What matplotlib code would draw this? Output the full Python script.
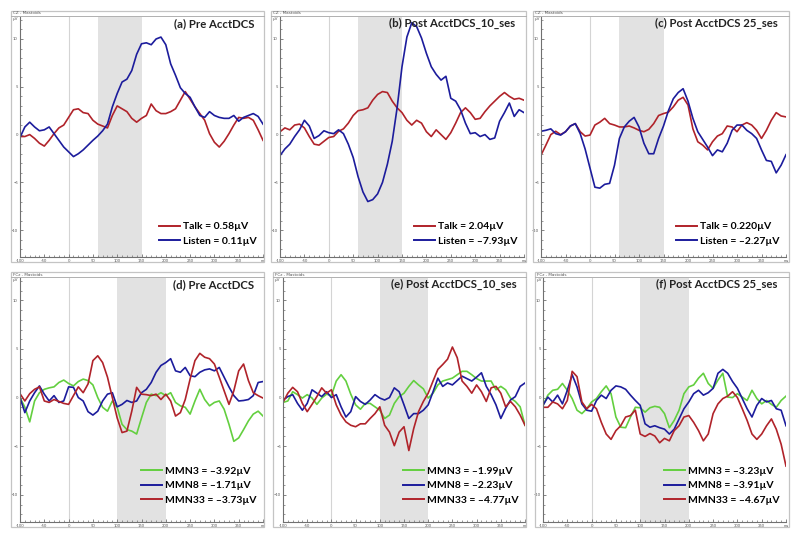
import numpy as np
import matplotlib
matplotlib.use("Agg")
import matplotlib.pyplot as plt
from matplotlib.lines import Line2D
from matplotlib.patches import Rectangle
from matplotlib.ticker import MultipleLocator

plt.rcParams['font.family'] = ['Lato', 'DejaVu Sans']

# time axis (ms), one sample every 10 ms
t = np.arange(-100, 401, 10)

# ---- top row: Talk / Listen (CZ) ----
a_talk = [-0.2, -0.2, 0.0, -0.4, -0.9, -1.2, -0.6, 0.1, 0.7, 1.0,
          1.8, 2.6, 2.7, 2.3, 2.2, 1.5, 1.1, 0.9, 0.7, 2.0,
          3.0, 2.7, 2.4, 1.7, 1.3, 1.7, 2.0, 3.2, 2.5, 2.2,
          2.2, 2.4, 2.7, 3.6, 4.5, 3.7, 2.9, 2.2, 1.5, 0.1,
          -0.8, -1.3, -0.7, 0.1, 1.0, 1.8, 1.7, 1.8, 1.5, 0.5,
          -0.6]
a_listen = [-0.3, 0.8, 1.3, 0.8, 0.4, 0.5, 0.8, 0.1, -0.6, -1.3,
            -1.8, -2.3, -2.0, -1.6, -1.1, -0.6, -0.15, 0.4, 1.1, 2.9,
            4.3, 5.5, 5.8, 6.7, 8.4, 9.5, 9.6, 9.4, 10.0, 10.2,
            9.4, 7.4, 6.2, 4.9, 4.3, 3.9, 2.9, 2.0, 1.8, 2.4,
            2.0, 1.8, 1.7, 1.7, 2.0, 1.4, 1.8, 2.0, 2.2, 1.9,
            1.1]
b_talk = [0.3, 0.7, 0.5, 1.0, 1.1, 0.7, -0.2, -1.0, -1.1, -0.7,
          -0.3, -0.2, 0.35, 0.6, 1.2, 2.0, 2.5, 2.6, 2.8, 3.6,
          4.2, 4.5, 4.4, 3.5, 2.8, 2.3, 1.5, 1.0, 1.5, 1.2,
          0.3, -0.2, 0.5, 0.0, -0.5, 0.2, 1.2, 2.3, 2.8, 2.3,
          1.6, 1.7, 2.4, 3.0, 3.5, 4.0, 4.4, 4.0, 3.7, 3.8,
          3.6]
b_listen = [-2.2, -1.5, -1.0, -0.2, 0.5, 1.5, 0.9, -0.4, -0.1, 0.4,
            0.2, 0.1, 0.5, 0.1, -1.0, -2.4, -4.4, -6.0, -7.0, -6.8,
            -6.2, -5.0, -3.1, -0.7, 2.8, 7.1, 10.2, 11.7, 11.3, 10.1,
            8.5, 7.1, 6.3, 5.7, 6.1, 3.8, 3.5, 2.6, 1.2, 0.1,
            0.2, -0.2, 0.0, -0.5, -0.35, 1.4, 2.3, 3.3, 1.9, 2.6,
            2.3]
c_talk = [-2.15, -1.1, 0.0, 0.35, 0.0, 0.3, 0.9, 1.15, 0.3, -0.15,
          -0.05, 1.0, 1.3, 1.7, 1.15, 1.0, 0.8, 0.8, 0.9, 0.7,
          0.45, 0.3, 0.55, 1.15, 2.0, 2.2, 2.35, 2.9, 3.6, 3.9,
          3.1, 0.6, -0.75, -1.1, -1.6, -0.75, -0.15, 0.1, 0.9, 0.8,
          0.3, 1.0, 1.25, 1.0, 0.45, -0.4, 0.45, 1.5, 2.3, 1.95,
          1.85]
c_listen = [0.35, 0.45, 0.6, 0.1, -0.05, 0.3, 0.9, 1.15, 0.1, -1.5,
            -3.5, -5.5, -5.6, -5.2, -5.1, -3.2, -0.4, 0.8, 1.4, 1.8,
            0.8, -0.9, -2.0, -2.0, -0.4, 0.9, 2.5, 3.75, 4.4, 4.8,
            3.5, 1.7, 0.3, -0.5, -1.3, -2.2, -1.6, -1.8, -0.9, 0.45,
            1.0, 1.0, 0.45, 0.1, -0.4, -1.6, -2.7, -2.8, -4.0, -3.2,
            -2.1]

# ---- bottom row: MMN3 / MMN8 / MMN33 (FCz) ----
d_mmn3 = [0.0, -1.0, -2.5, -0.35, 0.5, 0.85, 1.0, 1.1, 1.55, 1.8,
          1.45, 1.2, 1.65, 1.9, 1.75, 1.3, 0.0, -1.0, -1.4, -0.35,
          -1.0, -2.75, -3.3, -3.45, -3.75, -2.1, -0.5, 0.35, 0.2, 0.5,
          0.2, 0.5, -0.5, -0.85, -1.0, -1.7, -0.35, 0.85, -0.2, -0.85,
          -0.5, -0.35, -1.2, -2.75, -4.5, -4.15, -3.3, -2.4, -1.7, -1.4,
          -1.9]
d_mmn8 = [0.0, -1.55, -0.35, 0.5, 1.2, 0.35, -0.35, 0.2, -0.5, -0.35,
          1.1, 1.05, 0.0, -0.35, -1.45, -1.8, -1.4, -0.35, 0.35, 0.5,
          -0.95, -0.7, -0.3, -0.5, -0.35, 0.5, 0.85, 1.55, 2.6, 3.3,
          3.6, 4.0, 2.75, 2.6, 3.1, 2.25, 2.15, 2.6, 2.85, 2.95,
          2.75, 3.1, 2.1, 1.1, 0.2, -0.35, -0.3, -0.2, 0.2, 1.55,
          1.65]
d_mmn33 = [0.4, -0.35, 0.4, 0.85, 1.1, -0.35, -0.5, -0.2, -0.4, -0.6,
           -0.7, 0.2, 1.1, 0.5, 1.4, 3.8, 4.3, 3.6, 2.1, 0.0,
           -2.1, -3.6, -3.45, -1.4, 1.05, 0.35, 0.3, 0.2, 0.35, -0.2,
           0.35, -0.35, -1.9, -1.55, -0.2, 1.9, 3.8, 4.55, 4.15, 4.0,
           3.45, 2.1, 0.7, -0.7, 0.7, 2.75, 3.45, 1.75, 0.5, 0.2,
           -0.05]
e_mmn3 = [-0.5, -0.35, 0.6, 0.3, -0.05, 0.3, -0.05, -0.7, -0.05, 0.35,
          0.2, 1.7, 2.35, 1.7, 0.35, -0.75, -1.2, -0.6, -0.6, -0.95,
          -1.3, -2.15, -1.8, -0.6, 0.1, 0.45, 1.15, 1.75, 1.3, 0.9,
          -0.05, 0.45, 1.3, 1.7, 1.85, 2.0, 2.35, 2.7, 2.7, 2.35,
          1.95, 1.7, 1.7, 1.7, 0.8, 1.15, 0.8, -0.05, -0.4, -0.95,
          -2.85]
e_mmn8 = [-0.25, 0.1, 0.3, -0.6, -1.3, -0.6, 0.8, 0.45, 0.1, 0.6,
          0.0, 0.3, -0.95, -2.0, -1.45, 0.1, -0.4, -0.7, -0.25, 0.3,
          -0.05, -0.25, 0.0, 1.0, 0.6, -0.75, -2.15, -1.65, -1.65, -1.3,
          -0.75, 0.6, 2.0, 1.15, 1.5, 1.3, 1.75, 2.2, 1.95, 1.7,
          2.1, 2.55, 1.15, 0.3, -0.75, -2.15, -1.1, -0.25, 0.1, 1.15,
          1.5]
e_mmn33 = [-0.5, 0.45, 1.05, 0.6, -0.6, -1.45, -0.7, 0.1, 1.0, 0.45,
           0.8, -0.75, -1.8, -2.5, -2.85, -3.0, -2.7, -2.7, -2.15, -1.65,
           -0.95, -2.85, -3.55, -4.95, -3.55, -3.0, -5.45, -3.2, -1.45, -0.4,
           0.45, 1.7, 2.9, 3.4, 3.95, 5.2, 4.1, 1.7, 1.15, 0.45,
           1.3, 0.6, -0.4, 1.0, 1.15, 0.45, -0.95, -0.4, -0.95, -1.8,
           -2.85]
f_mmn3 = [-0.8, 0.25, 0.75, 0.85, 1.45, 0.75, -0.1, -1.3, -1.65, -1.15,
          -0.45, -0.1, 0.6, 1.2, 0.4, -2.0, -3.05, -3.1, -2.0, -1.0,
          -1.05, -1.5, -1.05, -0.9, -1.0, -1.65, -3.1, -2.35, -1.3, 0.4,
          1.1, 1.3, 2.0, 2.5, 1.45, 0.95, 1.8, 2.5, 0.05, 0.0,
          0.4, 0.05, -0.3, 0.75, -0.1, -0.65, -0.3, -0.7, -1.0, -0.3,
          0.15]
f_mmn8 = [-0.8, 0.05, -0.45, 0.25, -0.65, 0.75, 2.35, 1.1, -0.65, -1.3,
          -1.4, -0.3, 0.25, -0.1, 0.75, 1.2, 1.1, 0.85, 0.25, -0.3,
          -0.8, -2.7, -3.05, -2.9, -3.1, -3.25, -3.75, -3.25, -2.2, -1.15,
          -0.45, 0.4, 0.75, 0.25, 0.5, 0.95, 2.5, 2.9, 2.5, 1.65,
          0.95, -0.1, -1.15, -2.0, -0.8, -0.1, -0.45, -0.3, -1.15, -1.3,
          -2.9]
f_mmn33 = [-1.0, -1.0, -0.45, -0.65, -1.15, -0.3, 2.7, 2.15, -0.45, -1.15,
           -0.7, -1.15, -2.55, -3.75, -4.3, -3.4, -2.9, -2.0, -1.85, -1.3,
           -3.75, -4.0, -3.7, -3.95, -4.65, -4.2, -4.45, -3.4, -2.9, -2.0,
           -1.85, -2.55, -3.4, -4.45, -3.75, -1.65, -0.65, -0.1, 0.15, 0.6,
           0.0, -1.15, -2.35, -3.75, -4.3, -3.75, -2.9, -2.2, -3.25, -4.8,
           -7.05]

titles = ['(a) Pre AcctDCS', '(b) Post AcctDCS_10_ses', '(c) Post AcctDCS 25_ses',
          '(d) Pre AcctDCS', '(e) Post AcctDCS_10_ses', '(f) Post AcctDCS 25_ses']
top_labels = [['Talk = 0.58µV', 'Listen = 0.11µV'],
              ['Talk = 2.04µV', 'Listen = –7.93µV'],
              ['Talk = 0.220µV', 'Listen = –2.27µV']]
bot_labels = [['MMN3 = –3.92µV', 'MMN8 = –1.71µV', 'MMN33 = –3.73µV'],
              ['MMN3 = –1.99µV', 'MMN8 = –2.23µV', 'MMN33 = –4.77µV'],
              ['MMN3 = –3.23µV', 'MMN8 = –3.91µV', 'MMN33 = –4.67µV']]
top_series = [(a_talk, a_listen), (b_talk, b_listen), (c_talk, c_listen)]
bot_series = [(d_mmn3, d_mmn8, d_mmn33), (e_mmn3, e_mmn8, e_mmn33), (f_mmn3, f_mmn8, f_mmn33)]

RED = '#b0232a'
BLUE = '#1c1c9c'
GREEN = '#63cf3f'

W, H = 800, 535
fig = plt.figure(figsize=(8, 5.35), dpi=100)


def px(x0, y0, x1, y1):
    # pixel box -> figure fraction [left, bottom, width, height]
    return [x0 / W, 1 - y1 / H, (x1 - x0) / W, (y1 - y0) / H]


def panel(frame, axbox, title, header, span, series, colors, labels, legend_y):
    fx0, fy0, fx1, fy1 = frame
    fig.patches.append(Rectangle((fx0 / W, 1 - fy1 / H), (fx1 - fx0) / W, (fy1 - fy0) / H,
                                 transform=fig.transFigure, fill=False,
                                 edgecolor='#c4c4c4', lw=0.9))
    fig.lines.append(Line2D([fx0 / W, fx1 / W], [1 - (fy0 + 5) / H] * 2,
                            transform=fig.transFigure, color='#b0b0b0', lw=0.7))
    fig.text((fx0 + 2) / W, 1 - (fy0 + 2.5) / H, header, fontsize=3, color='#555555',
             va='center', family='DejaVu Sans')
    fig.text((fx0 + 2) / W, 1 - (fy0 + 8) / H, 'µV', fontsize=3, color='#555555',
             va='center', family='DejaVu Sans')

    ax = fig.add_axes(px(*axbox))
    ax.set_xlim(-100, 400)
    ax.set_ylim(-12.8, 12.3)
    ax.axvspan(span[0], span[1], color='#e2e2e2', lw=0, zorder=0)
    ax.axvline(0, color='#d4d4d4', lw=0.8, zorder=0)
    for vals, col in zip(series, colors):
        ax.plot(t, vals, color=col, lw=1.2)

    for s in ['top', 'right']:
        ax.spines[s].set_visible(False)
    for s in ['left', 'bottom']:
        ax.spines[s].set_color('#707070')
        ax.spines[s].set_linewidth(0.8)
    ax.set_xticks([-100, -50, 0, 50, 100, 150, 200, 250, 300, 350, 400])
    ax.set_xticklabels(['-100', '-50', '0', '50', '100', '150', '200', '250', '300', '350', 'ms'])
    ax.xaxis.set_minor_locator(MultipleLocator(10))
    ax.set_yticks([-10, -5, 0, 5, 10])
    ax.yaxis.set_minor_locator(MultipleLocator(1))
    ax.tick_params(which='both', direction='in', color='#707070', labelsize=3,
                   labelcolor='#555555', pad=1.5)
    ax.tick_params(which='major', length=2.5, width=0.6)
    ax.tick_params(which='minor', length=1.5, width=0.5)

    ax.text(0.965, 0.995, title, transform=ax.transAxes, ha='right', va='top',
            fontsize=8.2, fontweight='bold', color='#222222')
    handles = [Line2D([], [], color=c, lw=1.4) for c in colors]
    ax.legend(handles, labels, loc='lower right', bbox_to_anchor=(1.0, legend_y),
              frameon=False, handlelength=2.0, handletextpad=0.3, labelspacing=0.5,
              prop={'weight': 'bold', 'size': 7.5}, borderaxespad=0.2)
    return ax


top_frames = [(11, 11, 264, 262), (271, 11, 526, 262), (533, 11, 789, 262)]
top_axes = [(20, 17, 263, 257), (280, 17, 524, 257), (541, 17, 786, 257)]
bot_frames = [(11, 272, 264, 527), (273, 272, 526, 527), (535, 272, 789, 527)]
bot_axes = [(20, 278, 263, 522), (283, 278, 525, 522), (543, 278, 786, 522)]

for i in range(3):
    panel(top_frames[i], top_axes[i], titles[i], 'CZ - Mastoids', (60, 150),
          top_series[i], [RED, BLUE], top_labels[i], 0.02)
    panel(bot_frames[i], bot_axes[i], titles[i + 3], 'FCz - Mastoids', (100, 200),
          bot_series[i], [GREEN, BLUE, RED], bot_labels[i], 0.045)

fig.savefig('out.png', dpi=100)
